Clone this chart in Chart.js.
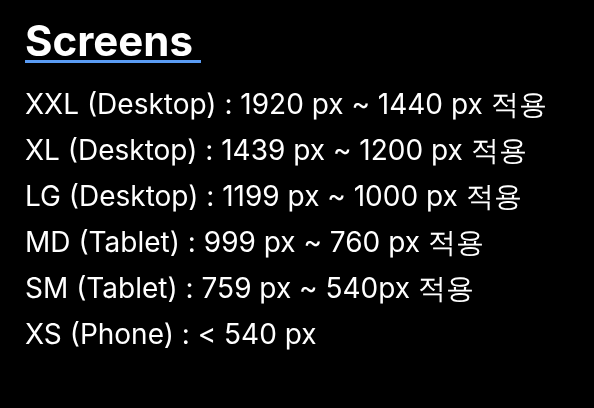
<!DOCTYPE html>
<html><head><meta charset="utf-8">
<script src="https://cdn.jsdelivr.net/npm/chart.js@4"></script>
<style>html,body{margin:0;background:#000;}#wrap{width:594px;height:408px;}</style>
</head><body><div id="wrap"><canvas id="c"></canvas></div>
<script>
// 화면 크기 구간
const heading = "Screens";
const screenLines = [
  "XXL (Desktop) : 1920 px ~ 1440 px 적용",
  "XL (Desktop) : 1439 px ~ 1200 px 적용",
  "LG (Desktop) : 1199 px ~ 1000 px 적용",
  "MD (Tablet) : 999 px ~ 760 px 적용",
  "SM (Tablet) : 759 px ~ 540px 적용",
  "XS (Phone) : < 540 px"
];

// 제목 밑줄 그리기
const underline = {
  id: 'underline',
  afterDraw(chart) {
    const t = chart.titleBlock;
    const ctx = chart.ctx;
    ctx.save();
    ctx.font = 'bold 44px Inter';
    const w = ctx.measureText(heading).width;
    ctx.fillStyle = '#5a9cf5';
    ctx.fillRect(t.left, t.top + 60, w, 3);
    ctx.restore();
  }
};

new Chart(document.getElementById('c'), {
  type: 'bar',
  data: { labels: [], datasets: [] },
  plugins: [underline],
  options: {
    responsive: true,
    maintainAspectRatio: false,
    animation: false,
    layout: { padding: { left: 25 } },
    scales: { x: { display: false }, y: { display: false } },
    plugins: {
      legend: { display: false },
      tooltip: { enabled: false },
      title: {
        display: true, text: heading, align: 'start', color: '#ffffff',
        font: { family: 'Inter', size: 42, weight: 'bold' },
        padding: { top: 18, bottom: 14 }
      },
      subtitle: {
        display: true, text: screenLines, align: 'start', color: '#ffffff',
        font: { family: 'Inter', size: 28, lineHeight: 46 / 28 },
        padding: 0
      }
    }
  }
});
</script></body></html>
